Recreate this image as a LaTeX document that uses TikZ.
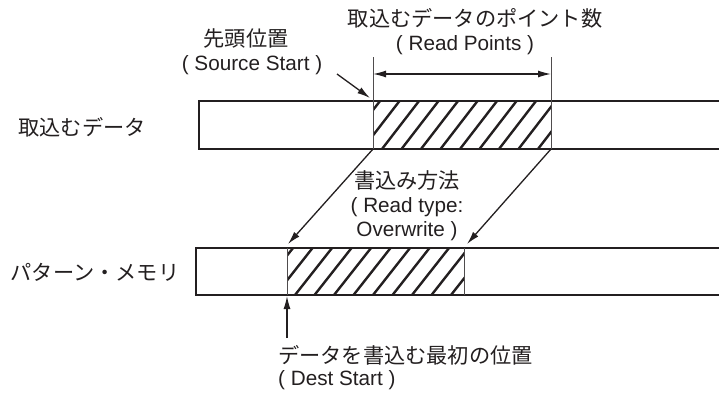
\documentclass[tikz,border=0pt]{standalone}
\usepackage{fontspec}
\setmainfont{Liberation Sans}
\newfontfamily\jp{Noto Sans CJK JP}
\usetikzlibrary{arrows.meta}
\definecolor{ink}{HTML}{231F20}
\begin{document}
\begin{tikzpicture}[x=1pt,y=-1pt,
  bar/.style={line width=1.9pt, draw=ink},
  edge/.style={line width=0.9pt, draw=ink!80},
  hatchline/.style={line width=2.4pt, draw=ink},
  conn/.style={line width=1.3pt, draw=ink, -{Latex[length=13pt,width=7pt]}},
  dimline/.style={line width=1.3pt, draw=ink, {Latex[length=13pt,width=7pt]}-{Latex[length=13pt,width=7pt]}},
  jt/.style={font=\jp\fontsize{21.2}{24}\selectfont, inner sep=0pt, text=ink},
  lt/.style={font=\fontsize{20.7}{24}\selectfont, inner sep=0pt, text=ink},
]
\useasboundingbox (0,0) rectangle (719,392);

% ---------- coordinates ----------
\coordinate (srcL) at (373,101);
\coordinate (srcR) at (551,101);
\coordinate (srcLb) at (373,149);
\coordinate (srcRb) at (551,149);
\coordinate (dstL) at (287,248);
\coordinate (dstR) at (464,248);
\coordinate (dstLb) at (287,295);
\coordinate (dstRb) at (464,295);
\coordinate (extLtop) at (373,57);
\coordinate (extRtop) at (551,57);
\coordinate (dimL) at (373,74);
\coordinate (dimR) at (551,74);
\coordinate (ssTail) at (337,74);
\coordinate (ssTip) at (370,98);
\coordinate (arrL) at (288,244);
\coordinate (arrR) at (467,244);
\coordinate (dsTail) at (287,338);
\coordinate (dsTip) at (287,296);

% ---------- hatching ----------
\begin{scope}
  \clip (373,101) rectangle (551,149);
  \foreach \k in {-1,...,11} {
    \draw[hatchline] ({343+\k*19.5},149) -- ({380+\k*19.5},101);
  }
\end{scope}
\begin{scope}
  \clip (287,248) rectangle (464,295);
  \foreach \k in {-1,...,11} {
    \draw[hatchline] ({256+\k*19.5},295) -- ({293+\k*19.5},248);
  }
\end{scope}

% ---------- bars ----------
\draw[bar] (722,101) -- (199,101) -- (199,149) -- (722,149);
\draw[bar] (722,248) -- (196,248) -- (196,295) -- (722,295);

% hatched-region edges and extension lines
\draw[edge] (extLtop) -- (srcLb);
\draw[edge] (extRtop) -- (srcRb);
\draw[edge] (dstL) -- (dstLb);
\draw[edge] (dstR) -- (dstRb);

% ---------- connectors ----------
\draw[dimline] (dimL) -- (dimR);
\draw[conn] (ssTail) -- (ssTip);
\draw[conn] (srcLb) -- (arrL);
\draw[conn] (srcRb) -- (arrR);
\draw[conn] (dsTail) -- (dsTip);

% ---------- labels ----------
\node[jt] (rpj) at (475,18) {取込むデータのポイント数};
\node[lt] (rpe) at (465,45) {( Read Points )};
\node[jt] (ssj) at (246,38) {先頭位置};
\node[lt] (sse) at (252,65) {( Source Start )};
\node[jt] (srcname) at (82,127) {取込むデータ};
\node[jt] (dstname) at (95,272) {パターン・メモリ};
\node[lt, align=center] (rtype) at (407,206) {{\jp\fontsize{21.2}{24}\selectfont 書込み方法}\\( Read type:\\Overwrite )};
\node[jt, anchor=west] (dsj) at (278,355) {データを書込む最初の位置};
\node[lt, anchor=west] (dse) at (278,380) {( Dest Start )};
\end{tikzpicture}
\end{document}
